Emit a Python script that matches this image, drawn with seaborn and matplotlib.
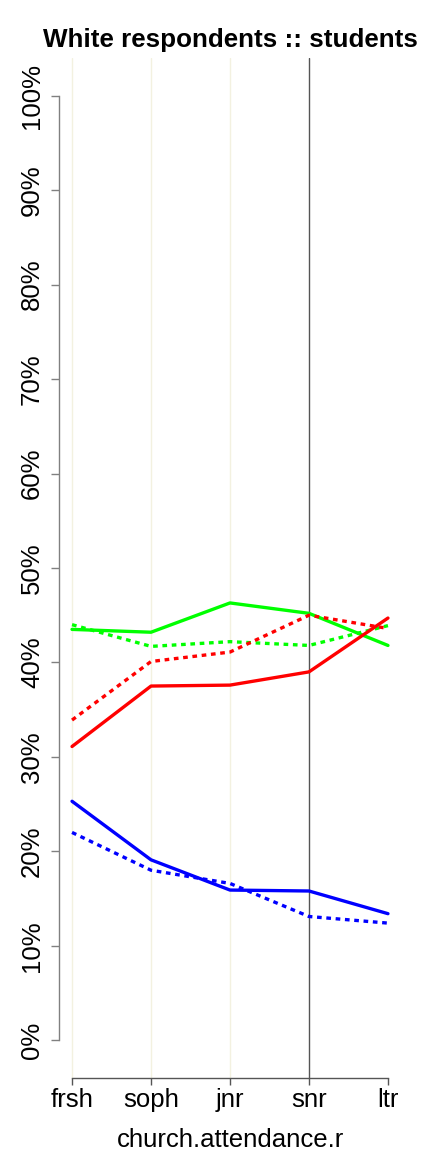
import matplotlib
matplotlib.use("Agg")
import matplotlib.pyplot as plt
import seaborn as sns
import pandas as pd
import numpy as np

categories = ["frsh", "soph", "jnr", "snr", "ltr"]

green_solid = [0.435, 0.432, 0.463, 0.452, 0.418]
green_dashed = [0.440, 0.417, 0.422, 0.418, 0.439]
red_solid = [0.311, 0.375, 0.376, 0.390, 0.447]
red_dashed = [0.339, 0.401, 0.411, 0.450, 0.436]
blue_solid = [0.253, 0.191, 0.159, 0.158, 0.134]
blue_dashed = [0.220, 0.180, 0.166, 0.131, 0.124]

y_ticks = [0.0, 0.1, 0.2, 0.3, 0.4, 0.5, 0.6, 0.7, 0.8, 0.9, 1.0]
y_labels = ["0%", "10%", "20%", "30%", "40%", "50%", "60%", "70%", "80%", "90%", "100%"]

title = "White respondents :: students"
xlabel = "church.attendance.r"

sns.set_style("white")
plt.rcParams["font.family"] = ["Liberation Sans", "DejaVu Sans"]
plt.rcParams["text.color"] = "black"
plt.rcParams["axes.labelcolor"] = "black"
plt.rcParams["xtick.color"] = "black"
plt.rcParams["ytick.color"] = "black"

fig = plt.figure(figsize=(4.32, 11.52), dpi=100)
ax = fig.add_axes([59.4 / 432, 74 / 1152, (400.6 - 59.4) / 432, (1078 - 58) / 1152])

xpos = np.arange(1, len(categories) + 1)

# vertical reference lines
for i, x in enumerate(xpos):
    if categories[i] == "ltr":
        continue
    col = "#555555" if categories[i] == "snr" else "#F3F1E0"
    ax.axvline(x, color=col, lw=1.0, zorder=1)

series = [
    (green_solid, "#00FF00", "solid"),
    (green_dashed, "#00FF00", "dashed"),
    (red_solid, "#FF0000", "solid"),
    (red_dashed, "#FF0000", "dashed"),
    (blue_solid, "#0000FF", "solid"),
    (blue_dashed, "#0000FF", "dashed"),
]

for vals, col, ls in series:
    df = pd.DataFrame({"x": xpos, "y": vals})
    sns.lineplot(data=df, x="x", y="y", ax=ax, color=col, lw=2.4, zorder=3)
    l = ax.lines[-1]
    if ls == "dashed":
        l.set_dashes((1.4, 1.4))

ax.set_xlim(1 - 0.16, 5 + 0.16)
ax.set_ylim(-0.04, 1.04)

ax.set_xticks(xpos)
ax.set_xticklabels(categories, fontsize=18.5, color="black")
ax.set_yticks(y_ticks)
ax.set_yticklabels(y_labels, fontsize=18.5, rotation=90, va="center", color="black")

for s in ["top", "right"]:
    ax.spines[s].set_visible(False)
ax.spines["left"].set_bounds(0, 1)
ax.spines["bottom"].set_bounds(1, 5)
ax.spines["left"].set_color("#808080")
ax.spines["bottom"].set_color("#555555")
ax.spines["left"].set_linewidth(1.0)
ax.spines["bottom"].set_linewidth(1.0)

ax.tick_params(axis="y", which="both", left=True, length=6, width=1.0, color="#808080", pad=5)
ax.tick_params(axis="x", which="both", bottom=True, length=5, width=1.0, color="#555555", pad=2)

ax.set_xlabel(xlabel, fontsize=18.5, labelpad=12, color="black")
ax.set_ylabel("")
ax.set_title(title, fontsize=18.7, fontweight="bold", pad=8, color="black")

fig.savefig("out.png", dpi=100)
